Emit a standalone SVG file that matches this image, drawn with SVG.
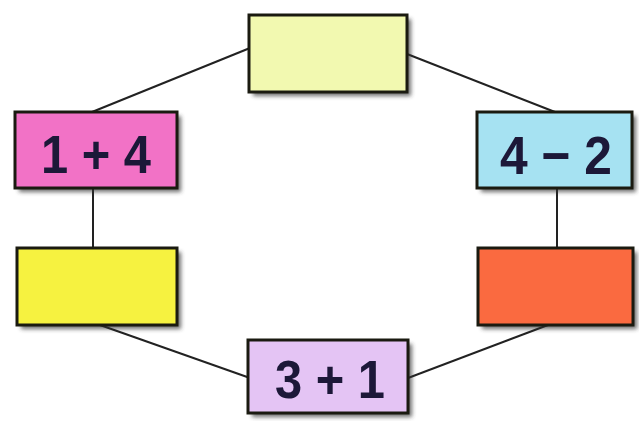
<svg xmlns="http://www.w3.org/2000/svg" width="639" height="421" viewBox="0 0 639 421">
<defs>
<filter id="sh" x="-10%" y="-10%" width="130%" height="140%">
<feGaussianBlur stdDeviation="2"/>
</filter>
</defs>
<style>
.box{stroke:#1a1a10;stroke-width:3}
.shadow{fill:#333;opacity:0.7;filter:url(#sh)}
.lbl{font-family:"Liberation Sans",Arial,sans-serif;font-weight:bold;font-size:54px;fill:#1c1838;text-anchor:middle}
.conn{stroke:#222;stroke-width:2;fill:none}
</style>
<rect width="639" height="421" fill="#ffffff"/>
<g id="connectors">
<line class="conn" x1="250" y1="48" x2="92" y2="112"/>
<line class="conn" x1="407" y1="54" x2="555" y2="112"/>
<line class="conn" x1="93" y1="188" x2="93" y2="248"/>
<line class="conn" x1="557" y1="188" x2="557" y2="248"/>
<line class="conn" x1="100" y1="325" x2="250" y2="378"/>
<line class="conn" x1="408" y1="378" x2="548" y2="325"/>
</g>
<g id="node-top">
<rect class="shadow" x="253" y="19" width="158" height="77"/>
<rect class="box" x="249" y="15" width="158" height="77" fill="#f2f9b0"/>
</g>
<g id="node-left-top">
<rect class="shadow" x="19" y="116" width="162" height="76"/>
<rect class="box" x="15" y="112" width="162" height="76" fill="#f272c6"/>
<text class="lbl" x="96" y="173" textLength="110" lengthAdjust="spacingAndGlyphs">1 + 4</text>
</g>
<g id="node-right-top">
<rect class="shadow" x="481" y="116" width="155" height="76"/>
<rect class="box" x="477" y="112" width="155" height="76" fill="#a6e2f2"/>
<text class="lbl" x="556" y="174" textLength="112" lengthAdjust="spacingAndGlyphs">4 − 2</text>
</g>
<g id="node-left-bottom">
<rect class="shadow" x="21" y="252" width="160" height="77"/>
<rect class="box" x="17" y="248" width="160" height="77" fill="#f6f240"/>
</g>
<g id="node-right-bottom">
<rect class="shadow" x="482" y="252" width="155" height="77"/>
<rect class="box" x="478" y="248" width="155" height="77" fill="#fa6a40"/>
</g>
<g id="node-bottom">
<rect class="shadow" x="252" y="344" width="160" height="73"/>
<rect class="box" x="248" y="340" width="160" height="73" fill="#e4c4f4"/>
<text class="lbl" x="330" y="398" textLength="110" lengthAdjust="spacingAndGlyphs">3 + 1</text>
</g>
</svg>
